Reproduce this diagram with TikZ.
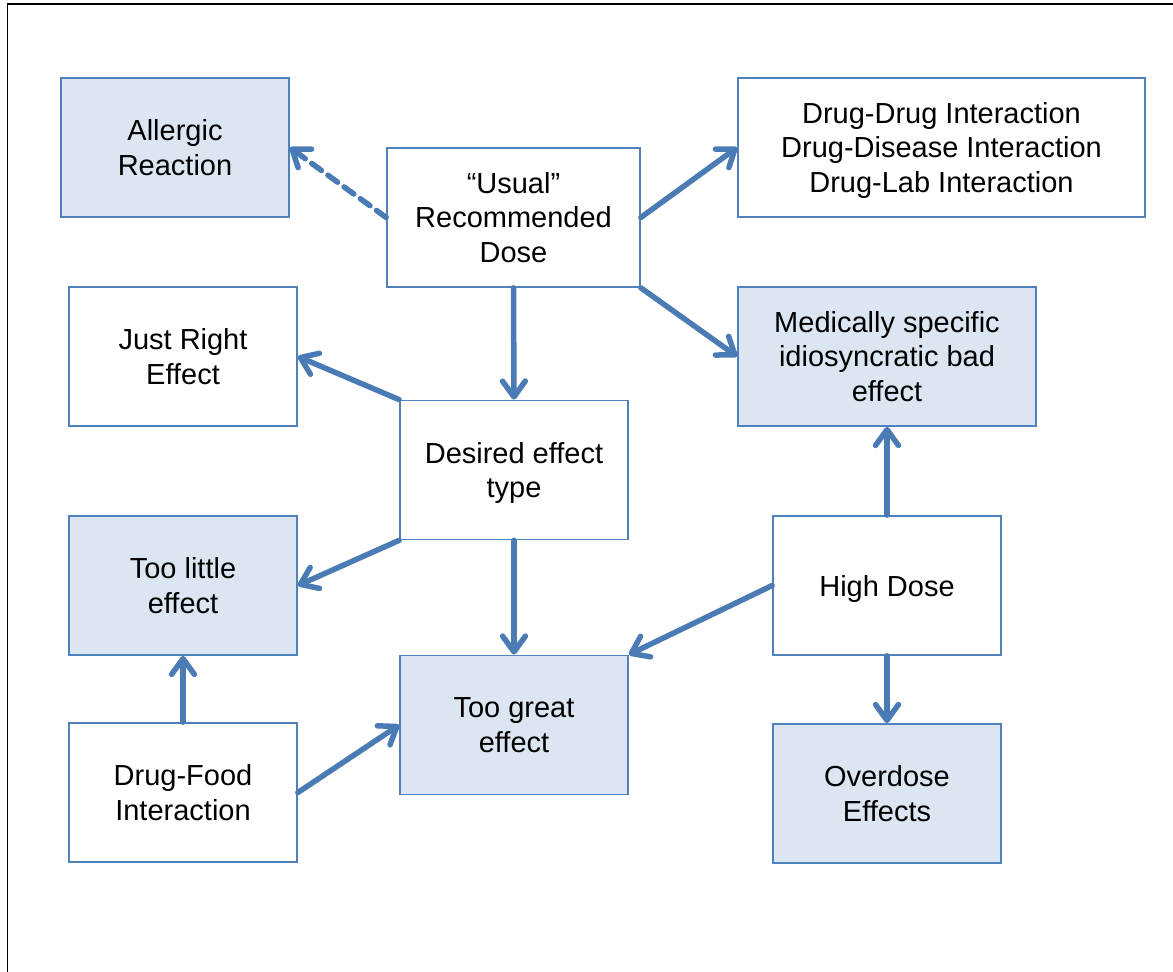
\documentclass[tikz,border=0pt]{standalone}
\usepackage{fontspec}
\setmainfont{Liberation Sans}
\usepackage{tikz}
\usetikzlibrary{arrows.meta}
\newcommand{\larg}{4.56cm}
\newcommand{\haut}{2.78cm}
\definecolor{bleuligne}{RGB}{79,129,189}
\definecolor{bleufond}{RGB}{220,230,242}
\colorlet{colfleche}{bleuligne!95!black}
\tikzstyle{cadre}=[line width=0.04cm]
\tikzstyle{boite}=[draw=bleuligne, line width=1pt, fill=white, minimum width=\larg, minimum height=\haut, inner sep=0, align=center, font=\fontsize{16.5}{19.4}\selectfont, text depth=-4.5pt]
\tikzstyle{pleine}=[boite, fill=bleufond]
\tikzstyle{fleche}=[colfleche, line width=0.11cm, line cap=round, -{Straight Barb[length=9pt,width=13pt,round]}]
\begin{document}
\begin{tikzpicture}[x=0.02cm,y=-0.02cm]
\useasboundingbox (0,0) rectangle (1173,972);
\draw[cadre] (7.5,972) -- (7.5,4.5) -- (1173,4.5);

%boites haut
\node[pleine] (allergie) at (175,147.5) {Allergic\\Reaction};
\node[boite, minimum width=5.06cm] (usuelle) at (513.5,217.5) {“Usual”\\Recommended\\Dose};
\node[boite, minimum width=8.14cm] (interactions) at (941.5,147.5) {Drug-Drug Interaction\\Drug-Disease Interaction\\Drug-Lab Interaction};

%boites milieu
\node[boite] (justeeffet) at (183,356.5) {Just Right\\Effect};
\node[pleine, minimum width=5.96cm] (idiosync) at (887,356.5) {Medically specific\\idiosyncratic bad\\effect};
\node[boite] (desire) at (514,470) {Desired effect\\type};
\node[pleine] (tropeu) at (183,585.5) {Too little\\effect};
\node[boite] (fortedose) at (887,585.5) {High Dose};

%boites bas
\node[pleine] (tropfort) at (514,725) {Too great\\effect};
\node[boite] (aliment) at (183,792.5) {Drug-Food\\Interaction};
\node[pleine] (surdose) at (887,793.5) {Overdose\\Effects};

%fleches
\draw[fleche, dash pattern=on 0.24cm off 0.16cm] (usuelle.west) -- (allergie.east);
\foreach \a/\b in {usuelle.east/interactions.west, usuelle.south/desire.north,
  usuelle.south east/idiosync.west, desire.north west/justeeffet.east,
  desire.south west/tropeu.east, desire.south/tropfort.north,
  fortedose.west/tropfort.north east, fortedose.north/idiosync.south,
  fortedose.south/surdose.north, aliment.north/tropeu.south,
  aliment.east/tropfort.west}
\draw[fleche] (\a) -- (\b);
\end{tikzpicture}
\end{document}
